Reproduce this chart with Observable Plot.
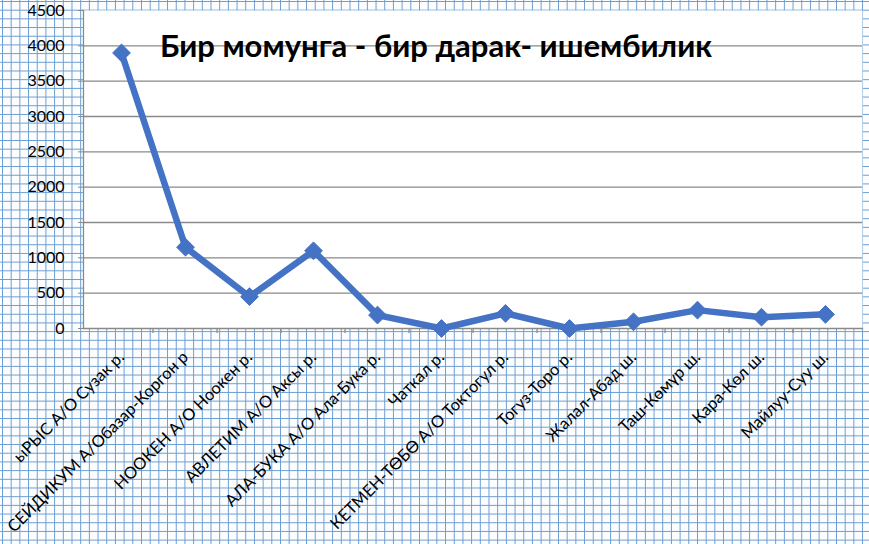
<!DOCTYPE html>
<html>
<head>
<meta charset="utf-8">
<script src="https://cdn.jsdelivr.net/npm/d3@7"></script>
<script src="https://cdn.jsdelivr.net/npm/@observablehq/plot@0.6"></script>
<style>
  html, body { margin: 0; padding: 0; }
  body {
    width: 869px; height: 544px; overflow: hidden;
    background-color: #fbfdff;
    background-image:
      linear-gradient(to right, #6b9ccf 1.4px, transparent 1.4px),
      linear-gradient(to bottom, #6b9ccf 1.4px, transparent 1.4px);
    background-size: 8.7px 8.7px;
    background-position: 2px 1px;
  }
  #chart svg { background: transparent !important; display: block; }
</style>
</head>
<body>
<div id="chart"></div>
<script>
const title = "Бир момунга - бир дарак- ишембилик";
const categories = [
  "ыРЫС А/О Сузак р.",
  "СЕЙДИКУМ А/Обазар-Коргон р",
  "НООКЕН А/О Ноокен р.",
  "АВЛЕТИМ А/О Аксы р.",
  "АЛА-БУКА А/О Ала-Бука р.",
  "Чаткал р.",
  "КЕТМЕН-ТӨБӨ А/О Токтогул р.",
  "Тогуз-Торо р.",
  "Жалал-Абад ш.",
  "Таш-Көмүр ш.",
  "Кара-Көл ш.",
  "Майлуу-Суу ш."
];
const values = [3900, 1150, 450, 1100, 190, 0, 215, 0, 95, 260, 160, 200];
const yTicks = [0, 500, 1000, 1500, 2000, 2500, 3000, 3500, 4000, 4500];
const gridValues = [500, 1000, 1500, 2000, 2500, 3000, 3500, 4000];

const data = categories.map((c, i) => ({category: c, value: values[i]}));

const W = 869, H = 544, mL = 83, mR = 7, mT = 10, mB = 216;
const band = (W - mL - mR) / categories.length;
const innerH = H - mT - mB;

const chart = Plot.plot({
  width: W,
  height: H,
  marginLeft: mL,
  marginRight: mR,
  marginTop: mT,
  marginBottom: mB,
  style: {fontFamily: "Lato, 'Noto Sans', sans-serif", background: "transparent", color: "black"},
  x: {type: "band", domain: categories, padding: 0, axis: null},
  y: {type: "linear", domain: [0, 4500], axis: null, label: null},
  marks: [
    Plot.frame({fill: "white", stroke: "none"}),
    Plot.ruleY(gridValues, {stroke: "#8a8a8a", strokeWidth: 1.3}),
    Plot.frame({anchor: "left", stroke: "#8a8a8a", strokeWidth: 1.3}),
    Plot.frame({anchor: "bottom", stroke: "#8a8a8a", strokeWidth: 1.3}),
    Plot.axisY(yTicks, {anchor: "left", label: null, tickSize: 5, tickPadding: 14, stroke: "#8a8a8a", fill: "black", fontSize: 16, tickFormat: d => String(d)}),
    Plot.ruleX(categories.slice(1), {x: d => d, dx: -band / 2, stroke: "#8a8a8a", strokeWidth: 1.3, insetTop: innerH, insetBottom: -5}),
    Plot.text(categories, {x: d => d, frameAnchor: "bottom", dy: 26, rotate: -45, textAnchor: "end", lineAnchor: "middle", fontSize: 16.5, fill: "black"}),
    Plot.line(data, {x: "category", y: "value", stroke: "#4472c4", strokeWidth: 6.5, strokeLinejoin: "round", style: "filter: drop-shadow(2px 3px 2px rgba(0,0,0,0.3))"}),
    Plot.dot(data, {x: "category", y: "value", symbol: "diamond2", r: 8, fill: "#4472c4", stroke: "#4472c4", strokeWidth: 1}),
    Plot.text([title], {frameAnchor: "top", dx: -37, dy: 24, fontSize: 31, fontWeight: "bold", fill: "black"})
  ]
});
document.getElementById("chart").append(chart);
</script>
</body>
</html>
